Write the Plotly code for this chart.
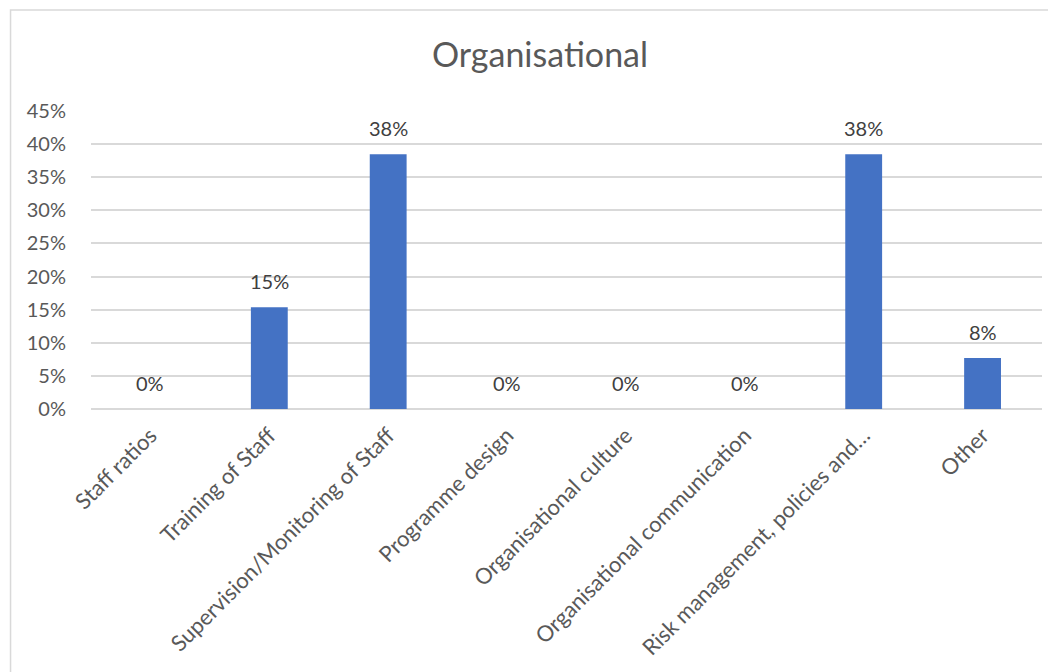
import plotly.graph_objects as go

categories = ["Staff ratios", "Training of Staff", "Supervision/Monitoring of Staff",
              "Programme design", "Organisational culture", "Organisational communication",
              "Risk management, policies and…", "Other"]
values = [0.0, 0.1538, 0.3846, 0.0, 0.0, 0.0, 0.3846, 0.0769]
y_ticks = [0, 0.05, 0.10, 0.15, 0.20, 0.25, 0.30, 0.35, 0.40, 0.45]
title_text = "Organisational"

FONT = "Lato, 'Open Sans', sans-serif"
GREY = "#595959"

W, H = 1048, 664
L, T = 82.5, 103
PW, PH = 951.5, 298

fig = go.Figure()
fig.add_trace(go.Bar(
    x=categories, y=values,
    marker=dict(color="#4472C4", line=dict(width=0)),
    hoverinfo="x+y",
))

for c, v in zip(categories, values):
    fig.add_annotation(x=c, y=v, text=f"{v:.0%}", showarrow=False,
                       yanchor="bottom", yshift=12,
                       font=dict(family=FONT, size=20, color="#404040"))

fig.update_layout(
    width=W, height=H,
    paper_bgcolor="white", plot_bgcolor="white",
    margin=dict(l=L, r=W - L - PW, t=T, b=H - T - PH, autoexpand=False),
    bargap=0.69,
    showlegend=False,
    title=dict(text=title_text, x=532 / W, xanchor="center", xref="container",
               y=1 - 47 / H, yanchor="middle",
               font=dict(family=FONT, size=34, color=GREY)),
    xaxis=dict(tickangle=-45, tickfont=dict(family=FONT, size=22, color=GREY),
               showgrid=False, showline=False, ticks="outside", ticklen=4,
               tickcolor="rgba(0,0,0,0)"),
    yaxis=dict(range=[0, 0.45], tickvals=y_ticks, tickformat=".0%",
               tickfont=dict(family=FONT, size=20, color=GREY),
               showgrid=True, gridcolor="#D9D9D9", gridwidth=1.5,
               zeroline=True, zerolinecolor="#D9D9D9", zerolinewidth=1.5,
               ticks="outside", ticklen=20, tickcolor="rgba(0,0,0,0)",
               showline=False),
    shapes=[dict(type="rect", xref="paper", yref="paper",
                 x0=(2 - L) / PW, x1=(W + 10 - L) / PW,
                 y0=(T + PH - H - 20) / PH, y1=(T + PH - 2) / PH,
                 line=dict(color="#D9D9D9", width=1.5), layer="below")],
)

fig.write_html("out.html")
